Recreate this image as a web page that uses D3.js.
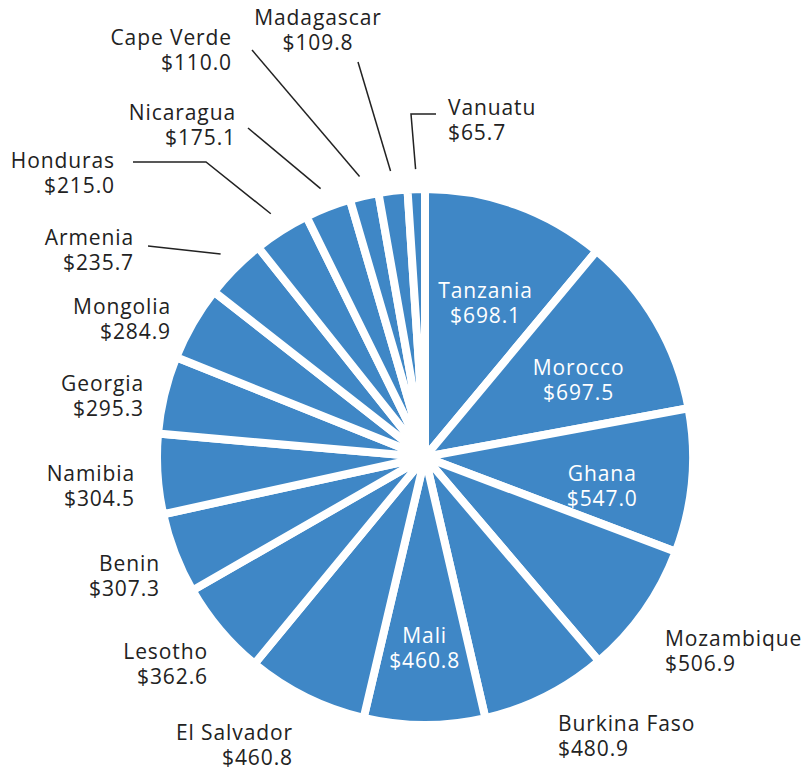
<!DOCTYPE html>
<html>
<head>
<meta charset="utf-8">
<script src="https://cdn.jsdelivr.net/npm/d3@7"></script>
<style>
  body { margin: 0; background: #fff; }
  text { font-family: "Open Sans", sans-serif; font-size: 21px; letter-spacing: 0.9px; }
</style>
</head>
<body>
<script>
// chart data, clockwise from 12 o'clock
const countries = ["Tanzania", "Morocco", "Ghana", "Mozambique", "Burkina Faso", "Mali",
  "El Salvador", "Lesotho", "Benin", "Namibia", "Georgia", "Mongolia", "Armenia",
  "Honduras", "Nicaragua", "Cape Verde", "Madagascar", "Vanuatu"];
const amounts = [698.1, 697.5, 547.0, 506.9, 480.9, 460.8, 460.8, 362.6, 307.3,
  304.5, 295.3, 284.9, 235.7, 215.0, 175.1, 110.0, 109.8, 65.7];
const insideLabels = ["Tanzania", "Morocco", "Ghana", "Mali"];

// layout of outside labels: [x, first baseline, anchor]
const labelLayout = {
  "Mozambique": [665, 646, "start"],
  "Burkina Faso": [558, 731, "start"],
  "El Salvador": [293, 740, "end"],
  "Lesotho": [208, 659, "end"],
  "Benin": [160, 571, "end"],
  "Namibia": [135, 481, "end"],
  "Georgia": [144, 391, "end"],
  "Mongolia": [171, 314, "end"],
  "Armenia": [134, 245, "end"],
  "Honduras": [115, 168, "end"],
  "Nicaragua": [236, 120, "end"],
  "Cape Verde": [232, 45, "end"],
  "Madagascar": [318, 25, "middle"],
  "Vanuatu": [448, 115, "start"]
};
// leader line outer points (elbows first, end last)
const leaders = {
  "Armenia": [[148, 246]],
  "Honduras": [[206, 162], [133, 162]],
  "Nicaragua": [[248, 128]],
  "Cape Verde": [[252, 50]],
  "Madagascar": [[358, 62]],
  "Vanuatu": [[411, 114], [436, 114]]
};

const width = 810, height = 768;
const cx = 425, cy = 457, radius = 268;
const blue = "#3f87c6";

const data = countries.map((c, i) => ({ name: c, value: amounts[i] }));

const svg = d3.select("body").append("svg")
  .attr("width", width)
  .attr("height", height);

const g = svg.append("g").attr("transform", `translate(${cx},${cy})`);

const pie = d3.pie().sort(null).value(d => d.value);
const arcs = pie(data);

const arc = d3.arc().innerRadius(0).outerRadius(radius);
const labelArc = d3.arc().innerRadius(178).outerRadius(178);
const leaderArc = d3.arc().innerRadius(288).outerRadius(288);

g.selectAll("path.slice")
  .data(arcs)
  .join("path")
  .attr("class", "slice")
  .attr("d", arc)
  .attr("fill", blue)
  .attr("stroke", "#fff")
  .attr("stroke-width", 8)
  .attr("stroke-linejoin", "round");

// labels inside the big slices
let inner = g.selectAll("text.inside")
  .data(arcs.filter(d => insideLabels.includes(d.data.name)))
  .join("text")
  .attr("class", "inside")
  .attr("fill", "#fff")
  .attr("text-anchor", "middle")
  .attr("transform", d => `translate(${labelArc.centroid(d)})`);
inner.append("tspan").attr("x", 0).attr("y", 8).text(d => d.data.name);
inner.append("tspan").attr("x", 0).attr("y", 33).text(d => "$" + d.data.value.toFixed(1));

// leader lines
const line = d3.line();
g.selectAll("path.leader")
  .data(arcs.filter(d => leaders[d.data.name]))
  .join("path")
  .attr("class", "leader")
  .attr("fill", "none")
  .attr("stroke", "#222")
  .attr("stroke-width", 1.5)
  .attr("d", d => {
    let pts = [leaderArc.centroid(d)];
    leaders[d.data.name].forEach(p => pts.push([p[0] - cx, p[1] - cy]));
    return line(pts);
  });

// labels outside
let outer = svg.selectAll("text.outside")
  .data(arcs.filter(d => labelLayout[d.data.name]))
  .join("text")
  .attr("class", "outside")
  .attr("fill", "#222")
  .attr("text-anchor", d => labelLayout[d.data.name][2]);
outer.append("tspan")
  .attr("x", d => labelLayout[d.data.name][0])
  .attr("y", d => labelLayout[d.data.name][1])
  .text(d => d.data.name);
outer.append("tspan")
  .attr("x", d => labelLayout[d.data.name][0])
  .attr("y", d => labelLayout[d.data.name][1] + 25)
  .text(d => "$" + d.data.value.toFixed(1));
</script>
</body>
</html>
